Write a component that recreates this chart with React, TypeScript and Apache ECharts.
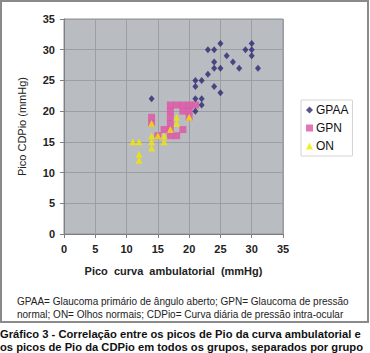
import React, { useEffect, useRef } from "react";
import * as echarts from "echarts";

const xTicks = ["0", "5", "10", "15", "20", "25", "30", "35"];

const gpaa: [number, number][] = [
  [14, 22], [21, 25], [21, 24], [22, 25], [23, 26], [23, 30], [24, 30], [24, 28],
  [24, 27], [24, 24], [25, 31], [25, 27], [25, 23], [26, 29], [27, 28], [28, 27],
  [29, 30], [30, 31], [30, 30], [30, 29], [31, 27], [21, 22], [22, 22], [22, 21], [21, 20],
];

const gpn: [number, number][] = [
  [14, 19], [14, 18], [15, 16], [16, 17], [17, 16], [18, 16], [17, 17], [19, 17],
  [17, 18], [17, 19], [20, 19], [17, 20], [19, 20], [20, 20], [17, 21], [18, 21],
  [19, 21], [20, 21], [21, 21],
];

const on: [number, number][] = [
  [11, 15], [12, 15], [12, 13], [12, 12], [14, 18], [14, 16], [14, 15], [14, 14],
  [15, 16], [16, 16], [16, 15], [17, 17], [18, 19], [18, 18], [20, 19],
];

const seriesNames = ["GPAA", "GPN", "ON"];
const noteLines = [
  "GPAA= Glaucoma primário de ângulo aberto; GPN= Glaucoma de pressão",
  "normal; ON= Olhos normais; CDPio= Curva diária de pressão intra-ocular",
];
const captionLines = [
  "Gráfico 3 - Correlação entre os picos de Pio da curva ambulatorial e",
  "os picos de Pio da CDPio em todos os grupos, separados por grupo",
];

const FONT = "'Liberation Sans', Arial, Helvetica, sans-serif";

export default function App() {
  const ref = useRef<HTMLDivElement>(null);
  useEffect(() => {
    if (!ref.current) return;
    const chart = echarts.init(ref.current, null, { renderer: "svg" });
    const axisCommon = {
      type: "value" as const,
      min: 0,
      max: 35,
      interval: 5,
      axisLine: { show: true, lineStyle: { color: "#7d7f82", width: 1 } },
      axisTick: { show: true, length: 4, lineStyle: { color: "#7d7f82" } },
      splitLine: { show: true, lineStyle: { color: "#9b9ea2", width: 1 } },
      axisLabel: {
        color: "#222",
        fontFamily: FONT,
        fontWeight: "bold" as const,
        fontSize: 11,
      },
      nameLocation: "middle" as const,
    };
    chart.setOption({
      animation: false,
      backgroundColor: "#ffffff",
      grid: {
        left: 64,
        right: 87,
        top: 19,
        bottom: 119,
        show: true,
        backgroundColor: "#b9bcc0",
        borderColor: "#8e9094",
        borderWidth: 1,
      },
      xAxis: {
        ...axisCommon,
        axisLabel: {
          ...axisCommon.axisLabel,
          margin: 9,
          formatter: (v: number) => xTicks[Math.round(v / 5)] ?? String(v),
        },
        name: "Pico  curva  ambulatorial  (mmHg)",
        nameGap: 31,
        nameTextStyle: { color: "#222", fontFamily: FONT, fontWeight: "bold", fontSize: 11 },
      },
      yAxis: {
        ...axisCommon,
        axisLabel: { ...axisCommon.axisLabel, margin: 9 },
        name: "Pico CDPio (mmHg)",
        nameGap: 37,
        nameTextStyle: { color: "#222", fontFamily: FONT, fontSize: 11 },
      },
      legend: {
        orient: "vertical",
        left: 301,
        top: 100,
        width: 53,
        padding: [3, 4, 3, 5],
        itemGap: 4,
        itemWidth: 7,
        itemHeight: 7,
        backgroundColor: "#ffffff",
        borderColor: "#d4d4d4",
        borderWidth: 1,
        textStyle: { color: "#111", fontFamily: FONT, fontSize: 12, lineHeight: 14, padding: [0, 0, 0, -2] },
        data: [
          { name: seriesNames[0], icon: "diamond" },
          { name: seriesNames[1], icon: "rect" },
          { name: seriesNames[2], icon: "triangle" },
        ],
      },
      series: [
        {
          name: seriesNames[1],
          type: "scatter",
          data: gpn,
          symbol: "rect",
          symbolSize: 7,
          itemStyle: { color: "#e052a6" },
          z: 2,
        },
        {
          name: seriesNames[0],
          type: "scatter",
          data: gpaa,
          symbol: "diamond",
          symbolSize: [6, 7],
          itemStyle: { color: "#2c2872" },
          z: 3,
        },
        {
          name: seriesNames[2],
          type: "scatter",
          data: on,
          symbol: "triangle",
          symbolSize: 7,
          itemStyle: { color: "#f2e600" },
          z: 4,
        },
      ],
      graphic: [
        {
          type: "rect",
          shape: { x: 1, y: 1, width: 367, height: 321 },
          style: { fill: "none", stroke: "#8a8a8a", lineWidth: 2 },
          silent: true,
        },
        {
          type: "text",
          x: 17,
          y: 301,
          style: { text: noteLines[0], font: `10px ${FONT}`, fill: "#222", verticalAlign: "middle" },
        },
        {
          type: "text",
          x: 17,
          y: 314,
          style: { text: noteLines[1], font: `10px ${FONT}`, fill: "#222", verticalAlign: "middle" },
        },
        {
          type: "text",
          x: 0,
          y: 334,
          style: { text: captionLines[0], font: `bold 11.2px ${FONT}`, fill: "#111", verticalAlign: "middle" },
        },
        {
          type: "text",
          x: 0,
          y: 347,
          style: { text: captionLines[1], font: `bold 11.2px ${FONT}`, fill: "#111", verticalAlign: "middle" },
        },
      ],
    });
    return () => chart.dispose();
  }, []);
  return <div ref={ref} style={{ width: 370, height: 353, position: "fixed", left: 0, top: 0 }} />;
}
